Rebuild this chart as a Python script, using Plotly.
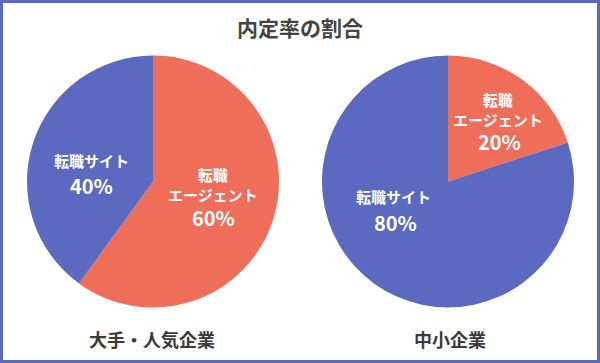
import plotly.graph_objects as go

title = "内定率の割合"
groups = ["大手・人気企業", "中小企業"]
slice_names = ["転職<br>エージェント", "転職サイト"]
large_vals = [60, 40]
small_vals = [20, 80]
colors = ["#EE6E5A", "#5B6AC0"]

W, H = 600, 363
font = "Noto Sans CJK JP, Noto Sans, sans-serif"

def px_x(v):
    return v / W

def px_y(v):
    return 1 - v / H

# pixel layout for pies and their labels (positions only)
pie_boxes = [(27, 279, 55.5, 307.5), (322, 574, 55.5, 307.5)]
label_pos = [
    [((213, 184), (213, 217)), ((91, 161), (91, 185))],
    [((498, 110), (499, 141)), ((393, 196), (395, 222))],
]
group_x = [152, 450]

fig = go.Figure()
for vals, box, lp in zip([large_vals, small_vals], pie_boxes, label_pos):
    x0, x1, y0, y1 = box
    fig.add_trace(go.Pie(
        labels=slice_names,
        values=vals,
        sort=False,
        direction="clockwise",
        rotation=0,
        marker=dict(colors=colors, line=dict(width=0)),
        textinfo="none",
        hoverinfo="skip",
        domain=dict(x=[px_x(x0), px_x(x1)], y=[px_y(y1), px_y(y0)]),
        showlegend=False,
    ))
    for name, v, (npos, ppos) in zip(slice_names, vals, lp):
        fig.add_annotation(text="<b>" + name + "</b>", x=px_x(npos[0]), y=px_y(npos[1]),
                           xref="paper", yref="paper", xanchor="center", yanchor="middle",
                           showarrow=False, font=dict(size=15, color="white", family=font))
        fig.add_annotation(text="<b>%d%%</b>" % v, x=px_x(ppos[0]), y=px_y(ppos[1]),
                           xref="paper", yref="paper", xanchor="center", yanchor="middle",
                           showarrow=False, font=dict(size=20, color="white", family=font))

fig.add_annotation(text="<b>" + title + "</b>", x=0.5, y=px_y(27), xref="paper", yref="paper",
                   xanchor="center", yanchor="middle",
                   showarrow=False, font=dict(size=21, color="#444444", family=font))
for gx, g in zip(group_x, groups):
    fig.add_annotation(text="<b>" + g + "</b>", x=px_x(gx), y=px_y(339), xref="paper", yref="paper",
                       xanchor="center", yanchor="middle",
                       showarrow=False, font=dict(size=18, color="#3a3a3a", family=font))

fig.add_shape(type="rect", xref="paper", yref="paper", x0=px_x(1.5), x1=px_x(598.5), y0=px_y(361.5), y1=px_y(1.5),
              line=dict(color="#5B6AC0", width=3), fillcolor="rgba(0,0,0,0)")

fig.update_layout(width=W, height=H, margin=dict(l=0, r=0, t=0, b=0),
                  paper_bgcolor="white", plot_bgcolor="white")
fig.write_html("out.html", config={"displayModeBar": False},
               post_script="document.body.style.margin='0';document.body.style.overflow='hidden';")
